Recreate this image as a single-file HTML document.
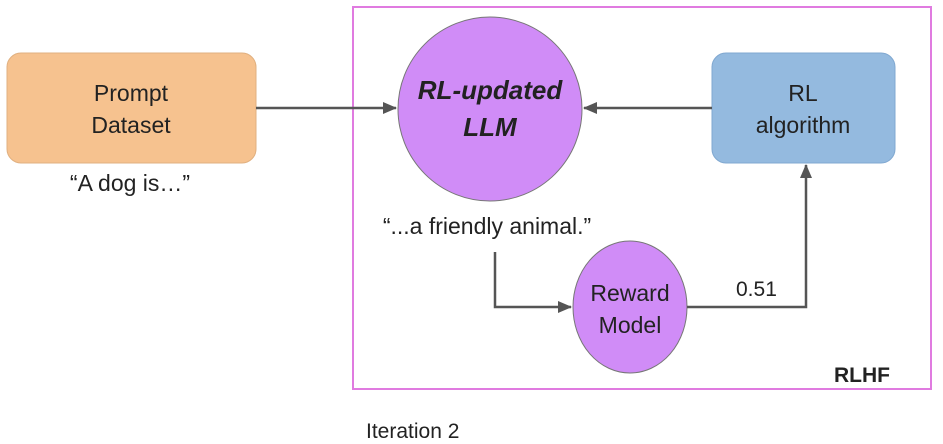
<!DOCTYPE html>
<html><head><style>
body{margin:0;background:#fff;}
svg{display:block;font-family:"Liberation Sans",sans-serif;}
</style></head><body>
<svg width="943" height="444" viewBox="0 0 943 444">
<defs><marker id="a" markerWidth="14" markerHeight="14" refX="13" refY="6" orient="auto" markerUnits="userSpaceOnUse"><path d="M0,0 L14,6 L0,12 z" fill="#555"/></marker></defs>
<rect x="353" y="7" width="578" height="382" fill="none" stroke="#e07be0" stroke-width="2"/>
<rect x="7" y="53" width="249" height="110" rx="14" fill="#f6c28f" stroke="#e0b080"/>
<text x="131" y="101" font-size="23" text-anchor="middle" fill="#222">Prompt</text>
<text x="131" y="133" font-size="23" text-anchor="middle" fill="#222">Dataset</text>
<text x="130" y="191" font-size="23" text-anchor="middle" fill="#222">“A dog is…”</text>
<rect x="712" y="53" width="183" height="110" rx="14" fill="#94badf" stroke="#80a8d0"/>
<text x="803" y="101" font-size="23" text-anchor="middle" fill="#222">RL</text>
<text x="803" y="133" font-size="23" text-anchor="middle" fill="#222">algorithm</text>
<ellipse cx="490" cy="109" rx="92" ry="92" fill="#d08cf7" stroke="#777"/>
<text x="490" y="99" font-size="26" font-weight="bold" font-style="italic" text-anchor="middle" fill="#222">RL-updated</text>
<text x="490" y="136" font-size="26" font-weight="bold" font-style="italic" text-anchor="middle" fill="#222">LLM</text>
<text x="487" y="234" font-size="23" text-anchor="middle" fill="#222">“...a friendly animal.”</text>
<ellipse cx="630" cy="307" rx="57" ry="66" fill="#d08cf7" stroke="#777"/>
<text x="630" y="301" font-size="23" text-anchor="middle" fill="#222">Reward</text>
<text x="630" y="333" font-size="23" text-anchor="middle" fill="#222">Model</text>
<line x1="256" y1="108" x2="396" y2="108" stroke="#555" stroke-width="2.5" marker-end="url(#a)"/>
<line x1="712" y1="108" x2="584" y2="108" stroke="#555" stroke-width="2.5" marker-end="url(#a)"/>
<polyline points="495,252 495,307 571,307" fill="none" stroke="#555" stroke-width="2.5" marker-end="url(#a)"/>
<polyline points="687,307 806,307 806,165" fill="none" stroke="#555" stroke-width="2.5" marker-end="url(#a)"/>
<text x="736" y="296" font-size="21" fill="#222">0.51</text>
<text x="834" y="382" font-size="21" font-weight="bold" fill="#222">RLHF</text>
<text x="366" y="438" font-size="21" fill="#222">Iteration 2</text>
</svg>
</body></html>
